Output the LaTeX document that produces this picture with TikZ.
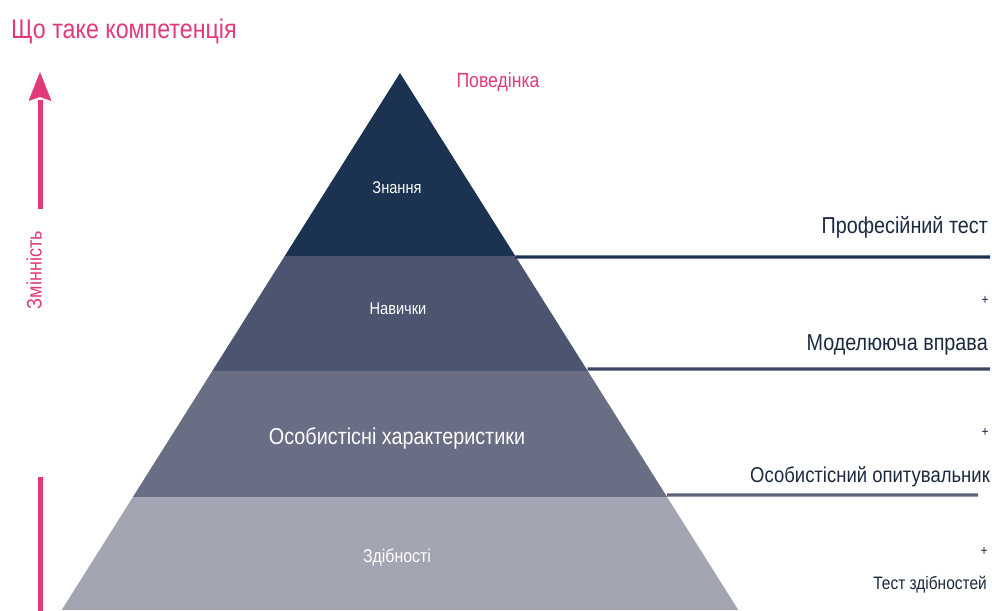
\documentclass[tikz,border=0pt]{standalone}
\usepackage{fontspec}
\setmainfont[FakeStretch=0.86]{Liberation Sans}
\usetikzlibrary{calc}
\definecolor{pinkc}{HTML}{E2397A}
\definecolor{bandA}{HTML}{1B3351}
\definecolor{bandB}{HTML}{4B5570}
\definecolor{bandC}{HTML}{696E85}
\definecolor{bandD}{HTML}{A3A5B2}
\definecolor{txtc}{HTML}{1C2A40}
\definecolor{lineB}{HTML}{3E4862}
\definecolor{lineC}{HTML}{5F6479}
\tikzset{
  inlabel/.style={text=white, inner sep=0pt, anchor=center},
  rlabel/.style={text=txtc, inner sep=0pt, anchor=east},
  plus/.style={text=txtc, inner sep=0pt, font=\fontsize{14}{14}\selectfont},
  sepline/.style={line width=3.2pt},
}
\begin{document}
\begin{tikzpicture}[x=1pt,y=-1pt]
\useasboundingbox (0,0) rectangle (992,610);
\fill[white] (0,0) rectangle (992,610);
% pyramid geometry
\coordinate (apex) at (400,73);
\coordinate (bl) at (61.7,610);
\coordinate (br) at (738.3,610);
\coordinate (l1) at ($(apex)!0.3408!(bl)$);
\coordinate (r1) at ($(apex)!0.3408!(br)$);
\coordinate (l2) at ($(apex)!0.5549!(bl)$);
\coordinate (r2) at ($(apex)!0.5549!(br)$);
\coordinate (l3) at ($(apex)!0.7896!(bl)$);
\coordinate (r3) at ($(apex)!0.7896!(br)$);
\fill[bandA] (apex) -- (r1) -- (l1) -- cycle;
\fill[bandB] (l1) -- (r1) -- (r2) -- (l2) -- cycle;
\fill[bandC] (l2) -- (r2) -- (r3) -- (l3) -- cycle;
\fill[bandD] (l3) -- (r3) -- (br) -- (bl) -- cycle;
% separator lines
\coordinate (e1) at (990,257);
\coordinate (e2) at (990,369);
\coordinate (e3) at (978,495);
\draw[sepline, bandA] ($(r1)+(0,1)$) -- (e1);
\draw[sepline, lineB] ($(r2)+(0,-2)$) -- (e2);
\draw[sepline, lineC] ($(r3)+(0,-2)$) -- (e3);
% title
\node[text=pinkc, anchor=west, inner sep=0pt, font=\fontsize{27}{27}\selectfont] (title) at (11,31) {Що таке компетенція};
% variability arrow
\coordinate (atip) at (40,72);
\coordinate (abase) at (40,100);
\coordinate (aend) at (40,209);
\coordinate (bstart) at (40,477);
\coordinate (bend) at (40,612);
\fill[pinkc] (atip) -- (51.5,101) -- (40,97) -- (28.5,101) -- cycle;
\draw[pinkc, line width=5pt] (abase) -- (aend);
\draw[pinkc, line width=5pt] (bstart) -- (bend);
\node[text=pinkc, rotate=90, inner sep=0pt, font=\fontsize{21}{21}\selectfont] (zmin) at (34,270) {Змінність};
% pyramid labels
\node[text=pinkc, inner sep=0pt, font=\fontsize{20.5}{20.5}\selectfont] (beh) at (498,82) {Поведінка};
\node[inlabel, font=\fontsize{17}{17}\selectfont] (zn) at (397,188) {Знання};
\node[inlabel, font=\fontsize{17}{17}\selectfont] (nav) at (398,309) {Навички};
\node[inlabel, font=\fontsize{23}{23}\selectfont] (osob) at (397,438) {Особистісні характеристики};
\node[inlabel, font=\fontsize{18.5}{18.5}\selectfont, text=white] (zdib) at (397,558) {Здібності};
% right labels
\node[rlabel, font=\fontsize{23}{23}\selectfont] (t1) at (988,227) {Професійний тест};
\node[plus] (p1) at (985,300) {+};
\node[rlabel, font=\fontsize{23}{23}\selectfont] (t2) at (988,345) {Моделююча вправа};
\node[plus] (p2) at (985,432) {+};
\node[rlabel, font=\fontsize{21.5}{21.5}\selectfont] (t3) at (990,477) {Особистісний опитувальник};
\node[plus] (p3) at (984,551) {+};
\node[rlabel, font=\fontsize{18}{18}\selectfont] (t4) at (987,585) {Тест здібностей};
\end{tikzpicture}
\end{document}
